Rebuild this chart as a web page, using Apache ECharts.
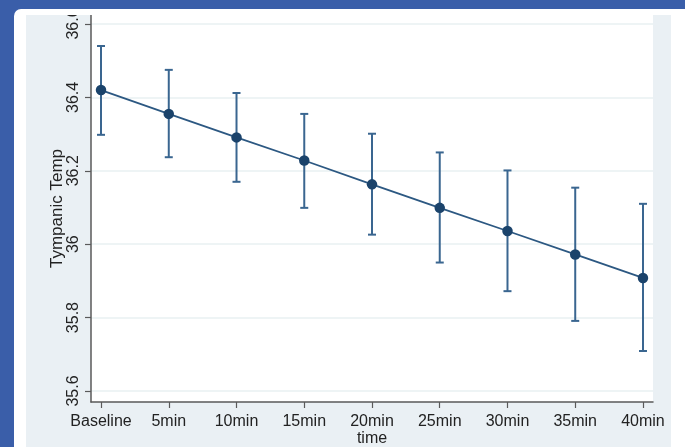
<!DOCTYPE html>
<html>
<head>
<meta charset="utf-8">
<script src="https://cdn.jsdelivr.net/npm/echarts@6/dist/echarts.min.js"></script>
<style>
html,body{margin:0;padding:0;width:685px;height:447px;overflow:hidden;background:#3a5ea9;}
#chart{width:685px;height:447px;}
</style>
</head>
<body>
<div id="chart"></div>
<script>
var categories = ['Baseline', '5min', '10min', '15min', '20min', '25min', '30min', '35min', '40min'];
var means = [36.420, 36.355, 36.291, 36.228, 36.163, 36.099, 36.036, 35.972, 35.908];
var upper = [36.540, 36.475, 36.412, 36.355, 36.301, 36.250, 36.201, 36.154, 36.110];
var lower = [36.298, 36.237, 36.170, 36.099, 36.026, 35.950, 35.872, 35.791, 35.709];
var yTicks = [35.6, 35.8, 36, 36.2, 36.4, 36.6];

var chart = echarts.init(document.getElementById('chart'), null, {renderer: 'canvas'});

var idx = categories.map(function (c, i) { return i; });
var lineData = means.map(function (m, i) { return [i, m]; });
var errData = means.map(function (m, i) { return [i, lower[i], upper[i]]; });

var option = {
  backgroundColor: '#3a5ea9',
  animation: false,
  textStyle: {fontFamily: 'Liberation Sans, Arial, sans-serif'},
  graphic: [
    {type: 'rect', z: -10, shape: {x: 14, y: 9, width: 680, height: 450, r: [7, 0, 0, 0]}, style: {fill: '#ffffff'}, silent: true},
    {type: 'rect', z: -9, shape: {x: 26, y: 15, width: 645, height: 440}, style: {fill: '#eaf0f4'}, silent: true},
    {type: 'rect', z: 100, shape: {x: 26, y: 9, width: 66, height: 6}, style: {fill: '#ffffff'}, silent: true}
  ],
  grid: {left: 91, right: 32, top: 15, bottom: 45, show: true, backgroundColor: '#ffffff', borderWidth: 0,
    containLabel: false, outerBoundsMode: 'none'},
  xAxis: {
    type: 'value',
    min: -0.148,
    max: 8.148,
    name: 'time',
    nameLocation: 'middle',
    nameGap: 29,
    nameMoveOverlap: false,
    nameTextStyle: {fontSize: 16, color: '#222'},
    axisLine: {show: true, onZero: false, lineStyle: {color: '#5a5a5a', width: 1.5}},
    axisTick: {show: true, customValues: idx, length: 6, lineStyle: {color: '#5a5a5a', width: 1.2}},
    axisLabel: {customValues: idx, fontSize: 16, color: '#222', margin: 12,
      formatter: function (v) { return categories[Math.round(v)]; }},
    splitLine: {show: false}
  },
  yAxis: {
    type: 'value',
    position: 'left',
    min: 35.570,
    max: 36.6245,
    name: 'Tympanic Temp',
    nameLocation: 'middle',
    nameGap: 25,
    nameMoveOverlap: false,
    nameTextStyle: {fontSize: 17, color: '#222'},
    axisLine: {show: true, onZero: false, lineStyle: {color: '#5a5a5a', width: 1.5}},
    axisTick: {show: true, customValues: yTicks, length: 6, lineStyle: {color: '#5a5a5a', width: 1.2}},
    axisLabel: {customValues: yTicks, fontSize: 16, color: '#222', rotate: 90, margin: 9,
      formatter: function (v) { return String(Math.round(v * 10) / 10); }},
    splitLine: {show: false}
  },
  series: [
    {
      type: 'line',
      data: lineData,
      silent: true,
      lineStyle: {opacity: 0},
      symbol: 'none',
      markLine: {
        silent: true,
        symbol: 'none',
        label: {show: false},
        lineStyle: {color: '#e8f0f2', width: 1.5, type: 'solid'},
        data: yTicks.map(function (t) { return {yAxis: t}; }),
        z: 0
      },
      z: 1
    },
    {
      type: 'custom',
      data: errData,
      z: 3,
      silent: true,
      renderItem: function (params, api) {
        var x = api.value(0);
        var lo = api.coord([x, api.value(1)]);
        var hi = api.coord([x, api.value(2)]);
        var cw = 4;
        var st = {stroke: '#3a6690', lineWidth: 2};
        return {
          type: 'group',
          children: [
            {type: 'line', shape: {x1: hi[0], y1: hi[1], x2: lo[0], y2: lo[1]}, style: st},
            {type: 'line', shape: {x1: hi[0] - cw, y1: hi[1], x2: hi[0] + cw, y2: hi[1]}, style: st},
            {type: 'line', shape: {x1: lo[0] - cw, y1: lo[1], x2: lo[0] + cw, y2: lo[1]}, style: st}
          ]
        };
      }
    },
    {
      type: 'line',
      data: lineData,
      z: 4,
      silent: true,
      symbol: 'circle',
      symbolSize: 10.5,
      lineStyle: {color: '#2c5882', width: 1.8},
      itemStyle: {color: '#1b436b', borderWidth: 0}
    }
  ]
};
chart.setOption(option);
</script>
</body>
</html>
